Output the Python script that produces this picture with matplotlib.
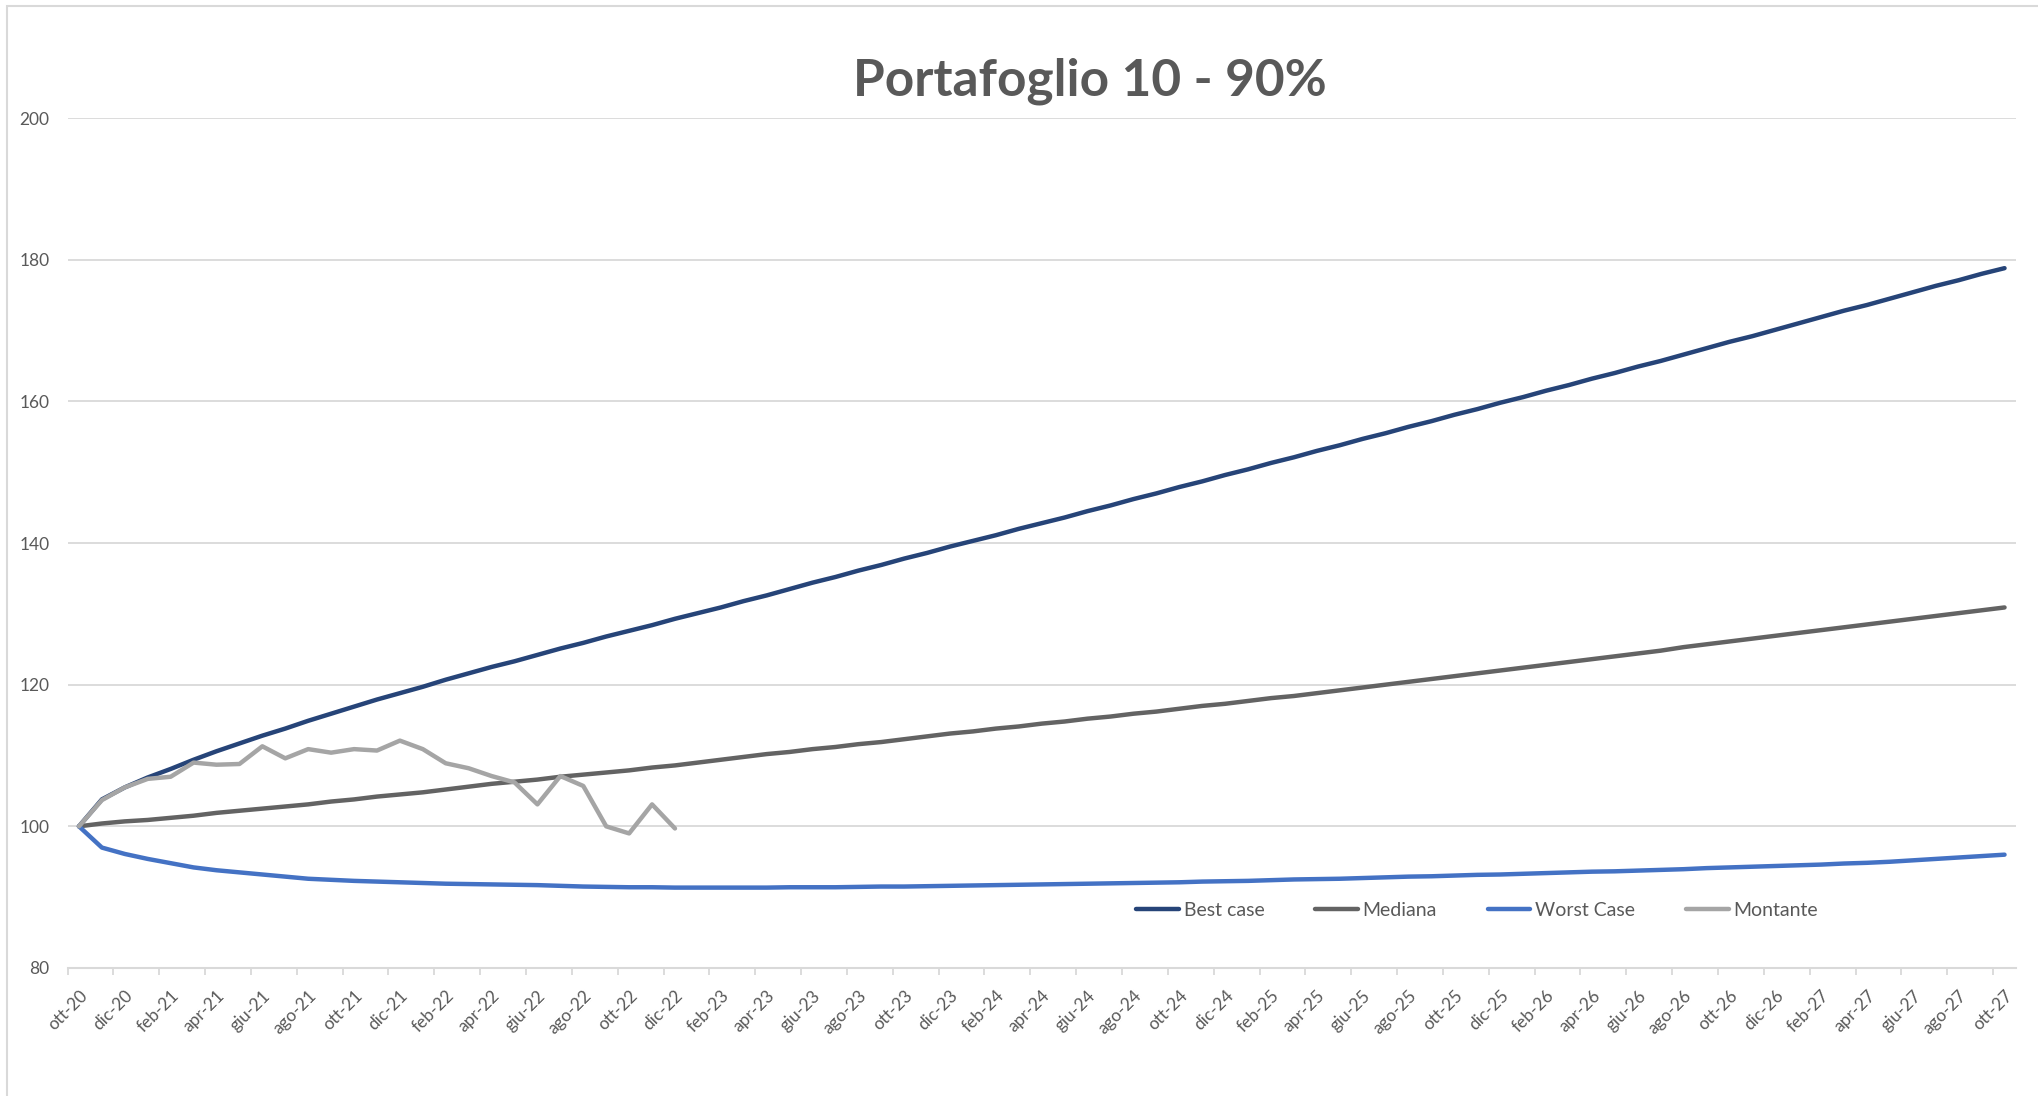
import matplotlib
matplotlib.use("Agg")
import matplotlib.pyplot as plt
import matplotlib.patches as mpatches
import numpy as np

plt.rcParams['font.family'] = ['Lato', 'DejaVu Sans']

# months ott-20 .. ott-27
mesi = ['gen', 'feb', 'mar', 'apr', 'mag', 'giu', 'lug', 'ago', 'set', 'ott', 'nov', 'dic']
categories = []
for k in range(85):
    m = (9 + k) % 12
    y = 20 + (9 + k) // 12
    categories.append(f"{mesi[m]}-{y}")

best_case = [
    100.0, 103.8, 105.5, 106.9, 108.1, 109.4, 110.6, 111.7, 112.8, 113.8,
    114.9, 115.9, 116.9, 117.9, 118.8, 119.7, 120.7, 121.6, 122.5, 123.3,
    124.2, 125.1, 125.9, 126.8, 127.6, 128.4, 129.3, 130.1, 130.9, 131.8,
    132.6, 133.5, 134.4, 135.2, 136.1, 136.9, 137.8, 138.6, 139.5, 140.3,
    141.1, 142.0, 142.8, 143.6, 144.5, 145.3, 146.2, 147.0, 147.9, 148.7,
    149.6, 150.4, 151.3, 152.1, 153.0, 153.8, 154.7, 155.5, 156.4, 157.2,
    158.1, 158.9, 159.8, 160.6, 161.5, 162.3, 163.2, 164.0, 164.9, 165.7,
    166.6, 167.5, 168.4, 169.2, 170.1, 171.0, 171.9, 172.8, 173.6, 174.5,
    175.4, 176.3, 177.1, 178.0, 178.8,
]

mediana = [
    100.0, 100.4, 100.7, 100.9, 101.2, 101.5, 101.9, 102.2, 102.5, 102.8,
    103.1, 103.5, 103.8, 104.2, 104.5, 104.8, 105.2, 105.6, 106.0, 106.3,
    106.6, 107.0, 107.3, 107.6, 107.9, 108.3, 108.6, 109.0, 109.4, 109.8,
    110.2, 110.5, 110.9, 111.2, 111.6, 111.9, 112.3, 112.7, 113.1, 113.4,
    113.8, 114.1, 114.5, 114.8, 115.2, 115.5, 115.9, 116.2, 116.6, 117.0,
    117.3, 117.7, 118.1, 118.4, 118.8, 119.2, 119.6, 120.0, 120.4, 120.8,
    121.2, 121.6, 122.0, 122.4, 122.8, 123.2, 123.6, 124.0, 124.4, 124.8,
    125.3, 125.7, 126.1, 126.5, 126.9, 127.3, 127.7, 128.1, 128.5, 128.9,
    129.3, 129.7, 130.1, 130.5, 130.9,
]

worst_case = [
    100.0, 97.0, 96.1, 95.4, 94.8, 94.2, 93.8, 93.5, 93.2, 92.9,
    92.6, 92.45, 92.3, 92.2, 92.1, 92.0, 91.9, 91.85, 91.8, 91.75,
    91.7, 91.6, 91.5, 91.45, 91.4, 91.4, 91.35, 91.35, 91.35, 91.35,
    91.35, 91.4, 91.4, 91.4, 91.45, 91.5, 91.5, 91.55, 91.6, 91.65,
    91.7, 91.75, 91.8, 91.85, 91.9, 91.95, 92.0, 92.05, 92.1, 92.2,
    92.25, 92.3, 92.4, 92.5, 92.55, 92.6, 92.7, 92.8, 92.9, 92.95,
    93.05, 93.15, 93.2, 93.3, 93.4, 93.5, 93.6, 93.65, 93.75, 93.85,
    93.95, 94.1, 94.2, 94.3, 94.4, 94.5, 94.6, 94.75, 94.85, 95.0,
    95.2, 95.4, 95.6, 95.8, 96.0,
]

# actual portfolio value, only up to dic-22
montante = [
    100.0, 103.7, 105.5, 106.7, 107.0, 109.0, 108.7, 108.8, 111.3, 109.6,
    110.9, 110.4, 110.9, 110.7, 112.1, 110.9, 108.9, 108.2, 107.1, 106.2,
    103.1, 107.1, 105.7, 100.0, 99.0, 103.1, 99.7,
]

series = [
    ("Best case", best_case, "#264478"),
    ("Mediana", mediana, "#636363"),
    ("Worst Case", worst_case, "#4472C4"),
    ("Montante", montante, "#A5A5A5"),
]

W, H = 2038, 1096
fig = plt.figure(figsize=(W / 100, H / 100), dpi=100)
ax = fig.add_axes([67.5 / W, 1 - 968 / H, (2016 - 67.5) / W, (968 - 118) / H])

for name, vals, col in series:
    ax.plot(np.arange(len(vals)), vals, color=col, lw=3.2, label=name,
            solid_joinstyle='round', solid_capstyle='round')

n = len(categories)
ax.set_xlim(-0.5, n - 0.5)
ax.set_ylim(80, 200)

# labels every two months, tick marks on category boundaries
ax.set_xticks(np.arange(0, n, 2))
ax.set_xticklabels(categories[::2], rotation=45, ha='right', va='top',
                   rotation_mode='anchor', fontsize=12.5, color='#595959')
ax.set_xticks(np.arange(-0.5, n - 1, 2), minor=True)
ax.tick_params(axis='x', which='major', length=0, pad=14)
ax.tick_params(axis='x', which='minor', length=5, width=1.3, color='#D9D9D9')

ax.set_yticks(np.arange(80, 201, 20))
ax.tick_params(axis='y', length=0, pad=13, labelsize=12.5, labelcolor='#595959')
ax.yaxis.grid(True, color='#D9D9D9', lw=1.3)
ax.set_axisbelow(True)

for s in ['top', 'right', 'left']:
    ax.spines[s].set_visible(False)
ax.spines['bottom'].set_color('#D9D9D9')
ax.spines['bottom'].set_linewidth(1.5)

fig.text(1090 / W, 1 - 81 / H, "Portafoglio 10 - 90%", ha='center', va='center',
         fontsize=37, fontweight='bold', color='#595959')

leg = fig.legend(loc='center', bbox_to_anchor=(1477 / W, 1 - 910 / H), ncol=4,
                 frameon=False, fontsize=14, handlelength=2.2, handletextpad=0.25,
                 columnspacing=2.6)
for t in leg.get_texts():
    t.set_color('#595959')

# chart area border
fig.patches.append(mpatches.Rectangle((7 / W, -0.1), 1.2, 1.1 - 6 / H,
                                      transform=fig.transFigure, fill=False,
                                      edgecolor='#D9D9D9', lw=1.5))

fig.savefig("out.png", dpi=100)
